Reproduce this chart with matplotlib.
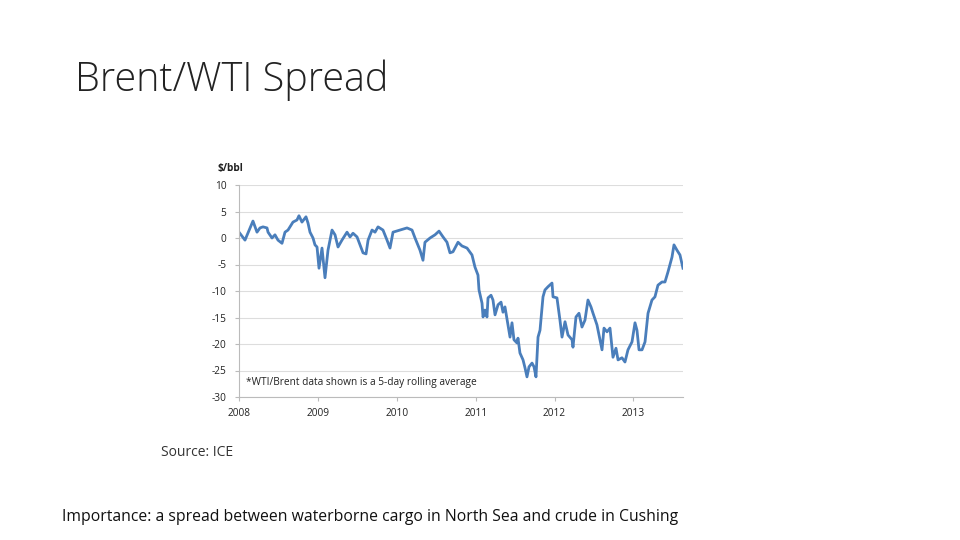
import matplotlib
matplotlib.use("Agg")
import matplotlib.pyplot as plt

# Data: decimal year, WTI-Brent spread ($/bbl)
dates = [2008.000, 2008.076, 2008.177, 2008.228, 2008.266, 2008.304, 2008.355, 2008.368,
         2008.418, 2008.456, 2008.494, 2008.545, 2008.583, 2008.621, 2008.684, 2008.735,
         2008.760, 2008.798, 2008.849, 2008.875, 2008.900, 2008.938, 2008.963, 2008.989,
         2009.014, 2009.052, 2009.090, 2009.128, 2009.179, 2009.217, 2009.255, 2009.305,
         2009.369, 2009.407, 2009.445, 2009.496, 2009.534, 2009.572, 2009.610, 2009.636,
         2009.686, 2009.724, 2009.762, 2009.825, 2009.876, 2009.914, 2009.952, 2010.041,
         2010.129, 2010.193, 2010.231, 2010.294, 2010.332, 2010.357, 2010.421, 2010.484,
         2010.535, 2010.586, 2010.636, 2010.674, 2010.712, 2010.776, 2010.826, 2010.890,
         2010.953, 2010.991, 2011.029, 2011.042, 2011.080, 2011.093, 2011.118, 2011.143,
         2011.156, 2011.194, 2011.219, 2011.245, 2011.283, 2011.321, 2011.346, 2011.371,
         2011.409, 2011.435, 2011.460, 2011.485, 2011.523, 2011.536, 2011.561, 2011.600,
         2011.625, 2011.650, 2011.676, 2011.714, 2011.739, 2011.764, 2011.790, 2011.815,
         2011.853, 2011.878, 2011.916, 2011.967, 2011.980, 2012.030, 2012.068, 2012.094,
         2012.132, 2012.170, 2012.221, 2012.233, 2012.271, 2012.309, 2012.347, 2012.385,
         2012.423, 2012.461, 2012.487, 2012.537, 2012.575, 2012.601, 2012.626, 2012.664,
         2012.702, 2012.740, 2012.778, 2012.804, 2012.854, 2012.892, 2012.930, 2012.981,
         2013.019, 2013.044, 2013.070, 2013.108, 2013.146, 2013.184, 2013.234, 2013.272,
         2013.310, 2013.361, 2013.399, 2013.437, 2013.488, 2013.513, 2013.551, 2013.589,
         2013.627]
spread = [1.1, -0.4, 3.2, 1.1, 1.9, 2.1, 1.9, 1.1,
          0.0, 0.6, -0.4, -1.0, 1.1, 1.5, 3.0, 3.4,
          4.2, 3.0, 4.0, 2.8, 1.1, 0.0, -1.3, -1.7,
          -5.7, -1.9, -7.5, -2.3, 1.5, 0.6, -1.7, -0.4,
          1.1, 0.2, 0.9, 0.2, -1.3, -2.8, -3.0, -0.4,
          1.5, 1.1, 2.1, 1.5, -0.4, -1.9, 1.1, 1.5,
          1.9, 1.5, 0.0, -2.3, -4.2, -0.8, 0.0, 0.6,
          1.3, 0.2, -0.8, -2.8, -2.6, -0.8, -1.5, -1.9,
          -3.2, -5.5, -7.0, -9.8, -12.3, -14.9, -13.6, -14.9,
          -11.3, -10.8, -11.7, -14.5, -12.6, -12.1, -14.0, -13.0,
          -16.4, -18.7, -16.0, -19.2, -19.8, -18.9, -21.7, -23.0,
          -24.5, -26.2, -24.3, -23.6, -24.3, -26.2, -18.7, -17.4,
          -11.1, -9.8, -9.2, -8.5, -11.1, -11.3, -15.5, -18.7,
          -15.8, -18.3, -19.2, -20.6, -14.9, -14.2, -16.8, -15.5,
          -11.7, -13.0, -14.2, -16.4, -19.2, -21.1, -17.0, -17.7,
          -17.0, -22.5, -20.8, -23.0, -22.6, -23.4, -21.1, -19.6,
          -16.0, -17.4, -21.1, -21.1, -19.6, -14.2, -11.7, -11.1,
          -8.9, -8.3, -8.3, -6.4, -3.6, -1.3, -2.3, -3.2,
          -5.7]

x_ticks = [2008, 2009, 2010, 2011, 2012, 2013]
y_ticks = [10, 5, 0, -5, -10, -15, -20, -25, -30]

title = "Brent/WTI Spread"
unit_label = "$/bbl"
note = "*WTI/Brent data shown is a 5-day rolling average"
source = "Source: ICE"
caption = "Importance: a spread between waterborne cargo in North Sea and crude in Cushing"

fig = plt.figure(figsize=(9.6, 5.4), dpi=100)
fig.patch.set_facecolor("white")

ax = fig.add_axes([239/960, 1-397/540, (683-239)/960, (397-185)/540])
ax.plot(dates, spread, color="#4a7ebb", linewidth=2.0, solid_joinstyle="round")
ax.set_xlim(2008, 2008 + (683-239)/78.9)
ax.set_ylim(-30, 10)
ax.set_xticks(x_ticks)
ax.set_xticklabels([str(t) for t in x_ticks], fontsize=7.3, family="Open Sans", color="#222222")
ax.set_yticks(y_ticks)
ax.set_yticklabels([str(t) for t in y_ticks], fontsize=7.3, family="Open Sans", color="#222222")
ax.grid(axis="y", color="#dddddd", linewidth=0.8)
ax.set_axisbelow(True)
for s in ["top", "right"]:
    ax.spines[s].set_visible(False)
ax.spines["left"].set_color("#bbbbbb")
ax.spines["bottom"].set_color("#bbbbbb")
ax.tick_params(axis="x", length=3, color="#bbbbbb", pad=5)
ax.tick_params(axis="y", length=3, color="#bbbbbb", pad=6)

ax.text(-0.048, 1.05, unit_label, transform=ax.transAxes, fontsize=7.3, fontweight="bold",
        family="Open Sans", color="#222222", ha="left", va="bottom")
ax.text(0.015, 0.068, note, transform=ax.transAxes, fontsize=7.3, family="Open Sans",
        color="#222222", ha="left", va="center")

fig.text(75/960, 1-80/540, title, fontsize=28.5, family="Open Sans", fontweight="light",
         color="#222222", ha="left", va="center")
fig.text(161/960, 1-452/540, source, fontsize=10, family="Open Sans",
         color="#333333", ha="left", va="center")
fig.text(62/960, 1-517/540, caption, fontsize=11.3, family="Open Sans",
         color="#111111", ha="left", va="center")

fig.savefig("out.png", dpi=100, facecolor="white")
